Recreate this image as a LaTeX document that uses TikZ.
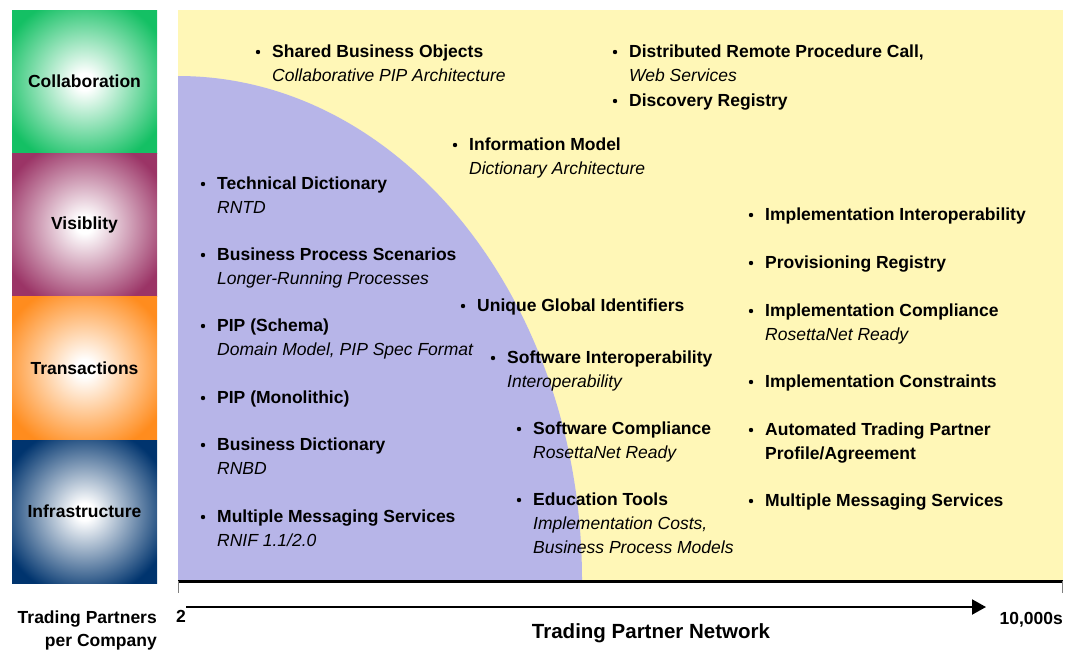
\documentclass[tikz,border=0pt]{standalone}
\usepackage{fontspec}
\setmainfont{Liberation Sans}
\usetikzlibrary{arrows.meta,positioning}

\definecolor{collabgreen}{RGB}{20,192,100}
\definecolor{vispurple}{RGB}{155,52,102}
\definecolor{transorange}{RGB}{255,140,30}
\definecolor{infranavy}{RGB}{0,52,110}
\definecolor{netyellow}{RGB}{255,247,183}
\definecolor{netblue}{RGB}{183,181,232}
\colorlet{layercolor}{collabgreen}

\pgfdeclareradialshading[layercolor]{layerglow}{\pgfpoint{0bp}{0bp}}{%
  color(0bp)=(white); color(3bp)=(white); color(30bp)=(layercolor);
  color(50bp)=(layercolor)}

\tikzset{
  layer/.style={minimum width=145pt, minimum height=143pt, inner sep=0pt,
    font=\bfseries\fontsize{17.5}{20}\selectfont,
    path picture={\colorlet{layercolor}{#1}
      \shade[shading=layerglow] (path picture bounding box.south west)
        rectangle (path picture bounding box.north east);}},
  head/.style={anchor=base west, inner sep=0pt, font=\bfseries\fontsize{17.5}{20}\selectfont},
  note/.style={anchor=base west, inner sep=0pt, font=\itshape\fontsize{17.5}{20}\selectfont},
  axislabel/.style={inner sep=0pt, font=\bfseries\fontsize{17.5}{20}\selectfont}
}

% bullet and first line: name, x of text, y of line, text
\newcommand{\netitem}[4]{%
  \fill (#2-14,#3+1) circle (2.2);
  \node[head] (#1) at (#2,#3+6) {#4};}
% next line below: previous line, name, text
\newcommand{\netnote}[3]{%
  \node[note] (#2) at ([yshift=-24pt]#1.base west) {#3};}

\begin{document}
\begin{tikzpicture}[x=1pt,y=-1pt]

  \useasboundingbox (0,0) rectangle (1065,649);

  % layers
  \node[layer=collabgreen] (collab) at (84.5,81.5) {Collaboration};
  \node[layer=vispurple, below=0pt of collab] (visib) {Visiblity};
  \node[layer=transorange, below=0pt of visib] (trans) {Transactions};
  \node[layer=infranavy, below=0pt of trans] (infra) {Infrastructure};

  % network field
  \fill[netyellow] (178,10) rectangle (1063,580);
  \begin{scope}
    \clip (178,10) rectangle (1063,580);
    \fill[netblue] (178,580) ellipse [x radius=404, y radius=504];
  \end{scope}

  \netitem{sbo}{272}{51}{Shared Business Objects}
  \netnote{sbo}{sbo2}{Collaborative PIP Architecture}
  \netitem{drpc}{629}{51}{Distributed Remote Procedure Call,}
  \netnote{drpc}{drpc2}{Web Services}
  \netitem{disc}{629}{100}{Discovery Registry}
  \netitem{infm}{469}{144}{Information Model}
  \netnote{infm}{infm2}{Dictionary Architecture}

  \netitem{tdic}{217}{183}{Technical Dictionary}
  \netnote{tdic}{tdic2}{RNTD}
  \netitem{bps}{217}{254}{Business Process Scenarios}
  \netnote{bps}{bps2}{Longer-Running Processes}
  \netitem{pips}{217}{325}{PIP (Schema)}
  \netnote{pips}{pips2}{Domain Model, PIP Spec Format}
  \netitem{pipm}{217}{397}{PIP (Monolithic)}
  \netitem{bdic}{217}{444}{Business Dictionary}
  \netnote{bdic}{bdic2}{RNBD}
  \netitem{mms}{217}{516}{Multiple Messaging Services}
  \netnote{mms}{mms2}{RNIF 1.1/2.0}

  \netitem{ugid}{477}{305}{Unique Global Identifiers}
  \netitem{swi}{507}{357}{Software Interoperability}
  \netnote{swi}{swi2}{Interoperability}
  \netitem{swc}{533}{428}{Software Compliance}
  \netnote{swc}{swc2}{RosettaNet Ready}
  \netitem{edu}{533}{499}{Education Tools}
  \netnote{edu}{edu2}{Implementation Costs,}
  \netnote{edu2}{edu3}{Business Process Models}

  \netitem{imi}{765}{214}{Implementation Interoperability}
  \netitem{prov}{765}{262}{Provisioning Registry}
  \netitem{imc}{765}{310}{Implementation Compliance}
  \netnote{imc}{imc2}{RosettaNet Ready}
  \netitem{imcon}{765}{381}{Implementation Constraints}
  \netitem{atp}{765}{429}{Automated Trading Partner}
  \netnote{atp}{atp2}{\bfseries\upshape Profile/Agreement}
  \netitem{emms}{765}{500}{Multiple Messaging Services}

  % axis
  \draw[line width=3pt] (178,581) -- (1063,581);
  \draw[gray, line width=1pt] (178.5,581) -- (178.5,593);
  \draw[gray, line width=1pt] (1062,581) -- (1062,593);

  \node[axislabel, anchor=base] (two) at (181,622) {2};
  \node[axislabel, anchor=base east] (tenk) at (1063,624) {10,000s};
  \node[axislabel, anchor=base, font=\bfseries\fontsize{20.5}{23}\selectfont] (tpn) at (651,638) {Trading Partner Network};
  \node[axislabel, anchor=base east] (tpc) at (157,623) {Trading Partners};
  \node[axislabel, anchor=base east] (tpc2) at (157,646) {per Company};

  \coordinate (arrA) at (186,607);
  \coordinate (arrB) at (986,607);
  \draw[line width=2pt, -{Triangle[length=14pt,width=15pt]}] (arrA) -- (arrB);

\end{tikzpicture}
\end{document}
